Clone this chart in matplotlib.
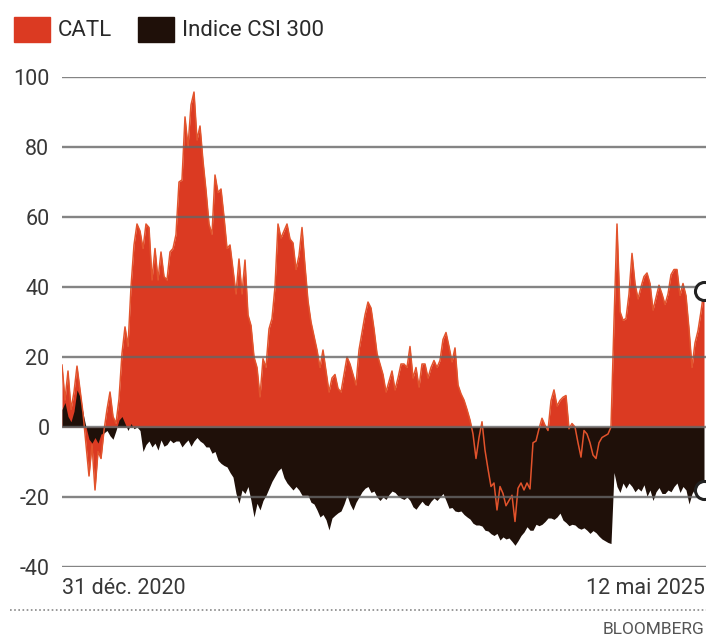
import numpy as np
import matplotlib
matplotlib.use('Agg')
import matplotlib.pyplot as plt
from matplotlib.patches import Rectangle
from matplotlib.lines import Line2D

plt.rcParams['font.family'] = ['Roboto', 'DejaVu Sans']

# performance relative (%) depuis le 31 déc. 2020, lecture du graphique
catl = [17.7, 7.7, 16, 5, 10, 17.4, 10.6, 4, -5, -14, -5, -18, -7, -9, -1, 5, 10, 3, 1, 8,
        21, 28.6, 23, 40, 52, 58, 56, 51, 58, 57, 42, 51, 42, 50, 43, 42, 50, 51, 55, 70,
        70.6, 88.6, 80, 92, 95.7, 82, 86, 76, 67.6, 58, 55, 72, 67, 68, 60, 51, 52, 45, 38, 48,
        38, 47.7, 32, 29, 20, 17, 8.6, 19.5, 17, 28, 31, 40, 58, 54, 56, 58, 53.7, 52.6, 45, 49,
        57, 46, 36, 30, 26, 22, 17, 22, 16, 10, 14, 15, 11, 10, 15, 20, 18, 15, 12, 22,
        27, 32, 35.7, 34, 28, 21, 18, 15, 10, 13, 16, 10.6, 14, 18, 18, 17, 23, 14, 17, 11.4,
        18, 18, 14, 17, 19, 17, 19, 25, 27, 23, 18.6, 22.6, 12, 9.5, 7.7, 5, 2, -2, -9, -3,
        1.5, -6.6, -12, -17, -16, -23.7, -17, -19, -22.5, -21, -19.5, -27, -17.5, -16, -18, -16, -17.7, -4.5, -4, -0.5,
        2.5, 0.5, -1, 7.5, 10.6, 6, 7.6, 8.5, 9, -0.5, 1, 0, -4.5, -8.6, -1, -2, -4.5, -8, -9, -4.5,
        -3, -2.5, -2, 0, 30, 58, 33, 30.5, 31, 38, 49.6, 41, 36.6, 40, 43, 44, 41, 33.4, 37, 40.5,
        38, 35, 38, 43.5, 45, 45, 37.6, 41, 37.5, 28, 17, 24, 27.5, 33, 39]

csi300 = [5, 7, 3, 1.5, 4.5, 10.6, 8.6, 4, 0, -3.5, -4.6, -3, -4.6, -2, -1.7, -1, -2.5, -3.5, -1, 2,
          3, 1, -1, 1, -0.5, 0, -1, -7, -5, -4, -5.7, -4.6, -6.6, -3.7, -5.5, -5, -3.7, -4.5, -4, -4,
          -5.7, -4.6, -3.7, -5.5, -4, -3, -4, -4.6, -5.7, -5.7, -7.5, -7, -9.5, -10.4, -11, -11.4, -13, -14.3, -19, -21.8,
          -18, -19, -17, -21, -25.7, -21.8, -23.7, -21, -19.5, -17.5, -15.5, -14, -12.5, -11.7, -14.5, -16, -17, -18, -17, -18,
          -19.5, -19.5, -19.5, -21.5, -22, -23.7, -25.7, -25, -26.5, -29.4, -26, -25.2, -24.5, -24, -22, -19.5, -22, -23.7, -21.5, -20,
          -18.5, -17.5, -17, -18.7, -18.3, -20, -21, -20, -20.7, -19.3, -18.3, -18.7, -19.7, -20.3, -20.7, -20, -21, -22.8, -23.5, -22.3,
          -21.2, -22.2, -22.5, -21.2, -20.3, -21, -20, -19, -21, -23.2, -23, -24, -24.2, -24, -25, -25.7, -26.3, -27.5, -28, -28,
          -28.3, -29.5, -29.7, -30.5, -31, -30.4, -32.3, -31.4, -32, -31.7, -32.7, -33.8, -32.5, -31, -30, -28.5, -29.5, -29.5, -27.8, -28.2,
          -27.8, -27, -26, -26, -26.4, -25.7, -24.6, -26.6, -27.3, -28.2, -27.8, -28, -28.8, -29.2, -28.8, -29.5, -30.4, -29.6, -30.2, -31.2,
          -32, -32.5, -33, -33.3, -13, -17, -18.7, -16, -17.5, -16, -17, -18.5, -17.5, -18.3, -16.5, -19.8, -18, -21, -18.5, -17.3,
          -19, -19, -18, -18.5, -17, -16, -18.7, -17, -18, -22, -19, -17.5, -18.5, -18, -18]

yticks = [-40, -20, 0, 20, 40, 60, 80, 100]
date_start = '31 déc. 2020'
date_end = '12 mai 2025'

red = '#db3a22'
dark = '#1f1009'

W, H = 706, 641
fig = plt.figure(figsize=(W / 100, H / 100), dpi=100)
ax = fig.add_axes([62 / W, 74 / H, (W - 62) / W, 490 / H])

x = np.arange(len(catl))
ax.fill_between(x, 0, catl, color=red, lw=0, zorder=2)
ax.fill_between(x, 0, csi300, color=dark, lw=0, zorder=3)
ax.plot(x, catl, color='#e2532c', lw=1.1, zorder=4)

for v in yticks:
    ax.axhline(v, color='#666666', lw=1.7, alpha=0.8, zorder=5)

ax.plot([x[-1]], [catl[-1]], 'o', ms=13, mfc='white', mec='#222222', mew=2.2,
        zorder=6, clip_on=False)
ax.plot([x[-1]], [csi300[-1]], 'o', ms=13, mfc='white', mec='#222222', mew=2.2,
        zorder=6, clip_on=False)

ax.set_xlim(0, (W - 62) / 3)
ax.set_ylim(-40, 100)
ax.set_yticks(yticks)
ax.set_yticklabels([str(v) for v in yticks], fontsize=15.5, color='#383838')
ax.tick_params(axis='y', length=0, pad=9)
ax.set_xticks([])
for s in ax.spines.values():
    s.set_visible(False)

fig.text(62 / W, 1 - 589 / H, date_start, fontsize=15.5, color='#383838', va='center', ha='left')
fig.text(705 / W, 1 - 589 / H, date_end, fontsize=15.5, color='#383838', va='center', ha='right')

# légende
fig.patches.append(Rectangle((14 / W, 1 - 42 / H), 36 / W, 25 / H, transform=fig.transFigure,
                             color=red, figure=fig))
fig.text(58 / W, 1 - 30 / H, 'CATL', fontsize=16, color='#2a2a2a', va='center')
fig.patches.append(Rectangle((138 / W, 1 - 42 / H), 36 / W, 25 / H, transform=fig.transFigure,
                             color=dark, figure=fig))
fig.text(182 / W, 1 - 30 / H, 'Indice CSI 300', fontsize=16, color='#2a2a2a', va='center')

fig.add_artist(Line2D([10 / W, 1], [1 - 610 / H, 1 - 610 / H], color='#888888', lw=1.2,
                      linestyle=(0, (1, 1.5))))
fig.text(704 / W, 1 - 630 / H, 'BLOOMBERG', fontsize=12.5, color='#555555', va='center', ha='right')

fig.savefig('out.png', dpi=100)
